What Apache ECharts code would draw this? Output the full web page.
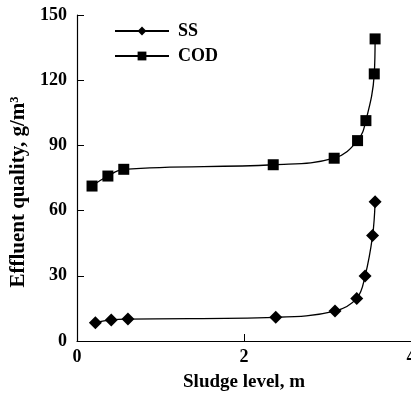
<!DOCTYPE html>
<html>
<head>
<meta charset="utf-8">
<script src="https://cdn.jsdelivr.net/npm/echarts@6/dist/echarts.min.js"></script>
<style>
  html, body { margin: 0; padding: 0; background: #fff; }
  #chart { width: 411px; height: 397px; }
</style>
</head>
<body>
<div id="chart"></div>
<script>
// Sludge blanket level (m) against effluent concentration (g/m3)
const ssLevel  = [0.22, 0.41, 0.61, 2.38, 3.09, 3.35, 3.45, 3.54, 3.57];
const ssValue  = [8.4, 9.7, 10.1, 10.9, 13.8, 19.6, 29.9, 48.5, 64.1];
const codLevel = [0.18, 0.37, 0.56, 2.35, 3.08, 3.36, 3.46, 3.56, 3.57];
const codValue = [71.3, 75.9, 79.0, 81.1, 84.1, 92.2, 101.4, 122.9, 139.0];
const xTicks = [0, 2, 4];
const yTicks = [0, 30, 60, 90, 120, 150];

const pairs = (xs, ys) => xs.map((x, i) => [x, ys[i]]);
const serif = '"Liberation Serif", "DejaVu Serif", serif';

const chart = echarts.init(document.getElementById('chart'), null, { renderer: 'canvas' });
chart.setOption({
  animation: false,
  backgroundColor: '#ffffff',
  grid: { left: 77, right: 0, top: 15, bottom: 56, containLabel: false, outerBoundsMode: 'none' },
  legend: {
    orient: 'vertical',
    left: 114,
    top: 22,
    padding: 0,
    itemWidth: 54,
    itemHeight: 11,
    itemGap: 7,
    textStyle: { fontFamily: serif, fontWeight: 'bold', fontSize: 18, color: '#000', padding: [0, 0, 0, 4] },
    data: ['SS', 'COD']
  },
  xAxis: {
    type: 'value',
    min: xTicks[0],
    max: xTicks[xTicks.length - 1],
    interval: 2,
    name: 'Sludge level, m',
    nameLocation: 'middle',
    nameGap: 32,
    nameTextStyle: { fontFamily: serif, fontWeight: 'bold', fontSize: 19, color: '#000' },
    axisLine: { lineStyle: { color: '#000', width: 1.2 } },
    axisTick: { inside: true, length: 7, lineStyle: { color: '#000' } },
    axisLabel: { fontFamily: serif, fontWeight: 'bold', fontSize: 18, color: '#000', margin: 7 },
    splitLine: { show: false }
  },
  yAxis: {
    type: 'value',
    min: yTicks[0],
    max: yTicks[yTicks.length - 1],
    interval: 30,
    name: 'Effluent quality, g/m\u00b3',
    nameLocation: 'middle',
    nameRotate: 90,
    nameGap: 46,
    nameTextStyle: { fontFamily: serif, fontWeight: 'bold', fontSize: 21, color: '#000', padding: [0, 28, 0, 0] },
    axisLine: { show: true, lineStyle: { color: '#000', width: 1.2 } },
    axisTick: { show: true, inside: true, length: 7, lineStyle: { color: '#000' } },
    axisLabel: { fontFamily: serif, fontWeight: 'bold', fontSize: 18, color: '#000', margin: 10 },
    splitLine: { show: false }
  },
  series: [
    {
      name: 'SS',
      type: 'line',
      data: pairs(ssLevel, ssValue),
      smooth: 0.4,
      symbol: 'diamond',
      symbolSize: 13,
      itemStyle: { color: '#000' },
      lineStyle: { color: '#000', width: 1.3 }
    },
    {
      name: 'COD',
      type: 'line',
      data: pairs(codLevel, codValue),
      smooth: 0.4,
      symbol: 'rect',
      symbolSize: 11,
      itemStyle: { color: '#000' },
      lineStyle: { color: '#000', width: 1.3 }
    }
  ]
});
</script>
</body>
</html>
